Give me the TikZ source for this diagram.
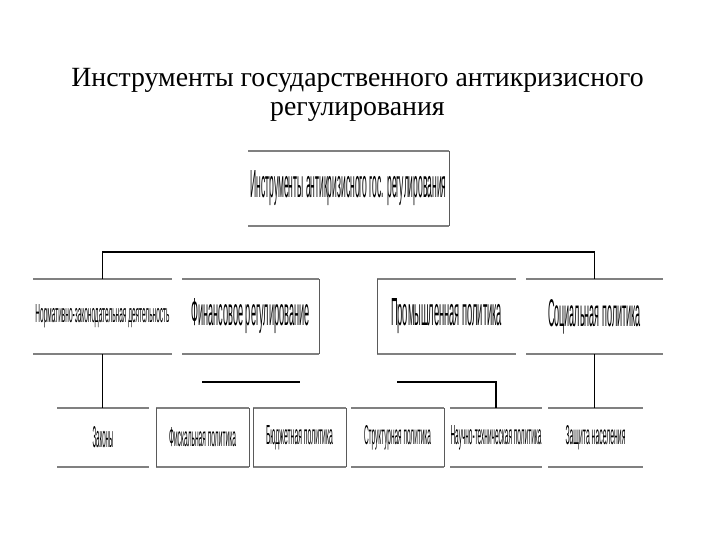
\documentclass[tikz,border=0pt]{standalone}
\usepackage{fontspec}
\setmainfont{Liberation Serif}
\newfontfamily\boxfont{Liberation Sans}
\usepackage{graphicx}
\definecolor{bargray}{RGB}{128,128,128}
\definecolor{sidegray}{RGB}{90,90,90}
\newcommand{\bxn}[8]{%
  \node[bx, minimum width={(#4-#2)*1pt}, minimum height={(#5-#3)*1pt}] (#1) at ({(#2+#4)/2},{(#3+#5)/2}) {\resizebox{#6pt}{#7pt}{\boxfont #8}};
  \draw[bar] (#1.north west) -- (#1.north east);
  \draw[bar] (#1.south west) -- (#1.south east);}
\begin{document}
\begin{tikzpicture}[x=1pt,y=-1pt,
  bar/.style={draw=bargray,line width=2pt},
  side/.style={draw=sidegray,line width=0.8pt},
  conn/.style={draw=black,line width=1.2pt},
  bx/.style={inner sep=0pt,outer sep=0pt},
  ttl/.style={inner sep=0pt,anchor=base,font=\fontsize{27.8}{30}\selectfont}]
\useasboundingbox (0,0) rectangle (720,540);
\fill[white] (0,0) rectangle (720,540);
% title
\node[ttl] (title1) at (357.5,87) {Инструменты государственного антикризисного};
\node[ttl] (title2) at (357.5,116) {регулирования};
% top box
\bxn{t}{248}{151}{449}{226}{196}{27}{Инструменты антикризисного гос. регулирования}
\draw[side] (t.north east) -- (t.south east);
% second row
\bxn{n1}{33}{279}{172}{354}{134}{18}{Нормативно-законодательная деятельность}
\bxn{n2}{182}{279}{319}{354}{118}{27}{Финансовое регулирование}
\draw[side] (n2.north east) -- (n2.south east);
\bxn{n3}{377}{279}{516}{354}{111}{27}{Промышленная политика}
\draw[side] (n3.north west) -- (n3.south west);
\bxn{n4}{526}{279}{663}{354}{93}{27}{Социальная политика}
% bottom row
\bxn{b1}{57}{408}{149}{467}{21}{21}{Законы}
\bxn{b2}{156}{408}{249}{467}{67}{19}{Фискальная политика}
\draw[side] (b2.north west) -- (b2.south west);
\draw[side] (b2.north east) -- (b2.south east);
\bxn{b3}{253}{408}{346}{467}{67}{19}{Бюджетная политика}
\draw[side] (b3.north west) -- (b3.south west);
\draw[side] (b3.north east) -- (b3.south east);
\bxn{b4}{351}{408}{444}{467}{67}{19}{Структурная политика}
\draw[side] (b4.north east) -- (b4.south east);
\bxn{b5}{450}{408}{542}{467}{91}{19}{Научно-техническая политика}
\bxn{b6}{548}{408}{643}{467}{60}{19}{Защита населения}
% connectors
\coordinate (hl) at (0,252);
\draw[conn] (n1.north) -- (n1.north |- hl) -- (n4.north |- hl) -- (n4.north);
\draw[conn] (n1.south) -- (n1.south |- b1.north);
\draw[conn] (n4.south) -- (n4.south |- b6.north);
\coordinate (f1) at (202,382);
\coordinate (f2) at (300,382);
\draw[conn] (f1) -- (f2);
\coordinate (l1) at (397,382);
\draw[conn] (l1) -| (b5.north);
\end{tikzpicture}
\end{document}
